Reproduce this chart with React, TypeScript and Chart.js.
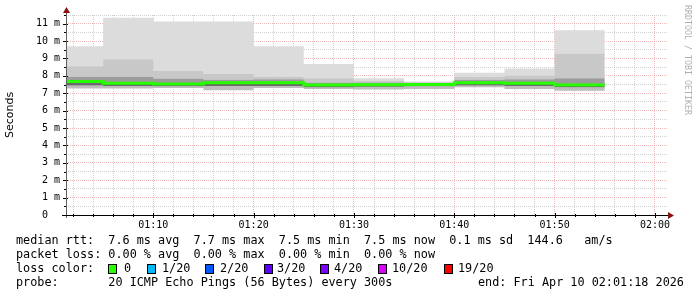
import React, { useEffect, useRef } from "react";
import { Chart, registerables } from "chart.js";

Chart.register(...registerables);

// ---- data (minutes after 01:00, 5-minute bins) ----
const binStarts = [0, 5, 10, 15, 20, 25, 30, 35, 40, 45, 50];
const binWidth = 5;
const rttMax = [9.71, 11.34, 11.13, 11.13, 9.71, 8.68, 7.86, 7.68, 8.18, 8.43, 10.63];
const rttUpper = [8.56, 8.95, 8.29, 8.12, 7.95, 7.87, 7.72, 7.64, 7.95, 8.0, 9.29];
const rttHigh = [7.95, 7.95, 7.85, 7.78, 7.8, 7.62, 7.62, 7.58, 7.78, 7.8, 7.86];
const rttMedian = [7.67, 7.57, 7.53, 7.6, 7.6, 7.47, 7.49, 7.51, 7.6, 7.57, 7.47];
const rttLow = [7.45, 7.42, 7.4, 7.42, 7.42, 7.35, 7.38, 7.4, 7.45, 7.42, 7.35];
const rttMin = [7.28, 7.28, 7.3, 7.18, 7.3, 7.24, 7.22, 7.24, 7.34, 7.24, 7.14];

const xRangeMin = 1.3; // 01:01:18
const xRangeMax = 61.3; // 02:01:18
const xMinorStep = 2;
const xMajorStep = 10;
const yMax = 11.5;
const yStep = 0.5;

const yAxisTitle = "Seconds";
const sideText = "RRDTOOL / TOBI OETIKER";
const legendLine1 = "median rtt:  7.6 ms avg  7.7 ms max  7.5 ms min  7.5 ms now  0.1 ms sd  144.6   am/s";
const legendLine2 = "packet loss: 0.00 % avg  0.00 % max  0.00 % min  0.00 % now";
const legendLine3 = "loss color:";
const legendLine4 = "probe:       20 ICMP Echo Pings (56 Bytes) every 300s";
const legendEnd = "end: Fri Apr 10 02:01:18 2026";
const lossLabels = ["0", "1/20", "2/20", "3/20", "4/20", "10/20", "19/20"];
const lossColors = ["#26ff00", "#00b8ff", "#0059ff", "#5e00ff", "#7e00ff", "#dd00ff", "#ff0000"];

const MONO = '"DejaVu Sans Mono", monospace';

// each bin becomes a flat step: (start, v) -> (end, v)
function pts(vals: number[]) {
  const out: { x: number; y: number }[] = [];
  binStarts.forEach((x, i) => {
    out.push({ x, y: vals[i] });
    out.push({ x: x + binWidth, y: vals[i] });
  });
  return out;
}

function fmtTime(m: number) {
  const h = 1 + Math.floor(m / 60);
  const mm = m % 60;
  return String(h).padStart(2, "0") + ":" + String(mm).padStart(2, "0");
}

const decorPlugin = {
  id: "decor",
  afterDraw(chart: any) {
    const ctx = chart.ctx as CanvasRenderingContext2D;
    const { left, right, top, bottom } = chart.chartArea;
    const xs = chart.scales.x;
    const ys = chart.scales.y;
    ctx.save();
    ctx.lineWidth = 1;
    ctx.strokeStyle = "#000";
    for (let m = 2; m <= 60; m += xMinorStep) {
      const px = Math.round(xs.getPixelForValue(m)) + 0.5;
      const big = m % xMajorStep === 0;
      ctx.beginPath();
      ctx.moveTo(px, bottom - (big ? 2 : 1));
      ctx.lineTo(px, bottom + (big ? 3 : 2));
      ctx.stroke();
    }
    for (let v = yStep; v <= yMax; v += yStep) {
      const py = Math.round(ys.getPixelForValue(v)) + 0.5;
      const big = Math.abs(v - Math.round(v)) < 1e-6;
      ctx.beginPath();
      ctx.moveTo(left - (big ? 3 : 2), py);
      ctx.lineTo(left + (big ? 2 : 1), py);
      ctx.stroke();
    }
    ctx.strokeStyle = "#606060";
    ctx.beginPath();
    ctx.moveTo(left + 0.5, top - 4);
    ctx.lineTo(left + 0.5, bottom + 3);
    ctx.stroke();
    ctx.strokeStyle = "#000";
    ctx.beginPath();
    ctx.moveTo(left - 4, bottom + 0.5);
    ctx.lineTo(right + 1, bottom + 0.5);
    ctx.stroke();
    ctx.fillStyle = "#8b1010";
    ctx.beginPath();
    ctx.moveTo(right, bottom - 3);
    ctx.lineTo(right + 6, bottom + 0.5);
    ctx.lineTo(right, bottom + 4);
    ctx.closePath();
    ctx.fill();
    ctx.beginPath();
    ctx.moveTo(left - 3, top - 2);
    ctx.lineTo(left + 0.5, top - 8);
    ctx.lineTo(left + 4, top - 2);
    ctx.closePath();
    ctx.fill();
    ctx.save();
    ctx.fillStyle = "#b0b0b0";
    ctx.font = "8.3px " + MONO;
    ctx.textBaseline = "middle";
    ctx.textAlign = "left";
    ctx.translate(687.5, 5);
    ctx.rotate(Math.PI / 2);
    ctx.fillText(sideText, 0, 0);
    ctx.restore();
    ctx.fillStyle = "#000";
    ctx.font = "11.8px " + MONO;
    ctx.textBaseline = "middle";
    ctx.textAlign = "left";
    ctx.fillText(legendLine1, 16, 241);
    ctx.fillText(legendLine2, 16, 255);
    ctx.fillText(legendLine3, 16, 269);
    ctx.fillText(legendLine4, 16, 283);
    ctx.fillText(legendEnd, 478, 283);
    const boxX = [108, 147, 205, 264, 320, 378, 444];
    const textX = [124, 162, 220, 277, 334, 392, 458];
    for (let i = 0; i < lossLabels.length; i++) {
      ctx.fillStyle = lossColors[i];
      ctx.fillRect(boxX[i], 264.5, 8, 9);
      ctx.strokeStyle = "#000";
      ctx.strokeRect(boxX[i] + 0.5, 264.5, 8, 9);
      ctx.fillStyle = "#000";
      ctx.fillText(lossLabels[i], textX[i], 269);
    }
    ctx.restore();
  },
};

const MAJOR = "rgba(220,120,120,0.5)";
const MINOR = "rgba(165,165,165,0.5)";

export default function App() {
  const ref = useRef<HTMLCanvasElement | null>(null);
  useEffect(() => {
    if (!ref.current) return;
    const base = { pointRadius: 0, borderWidth: 0, tension: 0 };
    const chart = new Chart(ref.current, {
      type: "line",
      data: {
        datasets: [
          { ...base, label: "min", data: pts(rttMin), fill: false, borderColor: "transparent" },
          { ...base, label: "low", data: pts(rttLow), fill: "-1", backgroundColor: "#bdbdbd", borderColor: "transparent" },
          {
            ...base,
            label: "median",
            data: pts(rttMedian),
            fill: "-1",
            backgroundColor: "#6a6a6a",
            borderColor: "#26ff00",
            borderWidth: 3,
            borderCapStyle: "butt",
            order: -1,
          },
          { ...base, label: "high", data: pts(rttHigh), fill: "-1", backgroundColor: "#9c9c9c", borderColor: "transparent" },
          { ...base, label: "upper", data: pts(rttUpper), fill: "-1", backgroundColor: "#c8c8c8", borderColor: "transparent" },
          { ...base, label: "max", data: pts(rttMax), fill: "-1", backgroundColor: "#dcdcdc", borderColor: "transparent" },
        ] as any,
      },
      options: {
        responsive: false,
        animation: false,
        devicePixelRatio: 1,
        layout: { padding: { left: 0, right: 29, top: 15, bottom: 62 } },
        plugins: { legend: { display: false }, tooltip: { enabled: false } },
        scales: {
          x: {
            type: "linear",
            min: xRangeMin,
            max: xRangeMax,
            z: 1,
            afterBuildTicks: (scale: any) => {
              const t = [];
              for (let m = Math.ceil(xRangeMin / xMinorStep) * xMinorStep; m <= xRangeMax; m += xMinorStep) t.push({ value: m });
              scale.ticks = t;
            },
            afterFit: (scale: any) => {
              scale.height = 20;
            },
            ticks: {
              autoSkip: false,
              maxRotation: 0,
              padding: 4,
              color: "#000",
              font: { family: MONO, size: 10 },
              callback: (v: any) => (Number(v) % xMajorStep === 0 ? fmtTime(Number(v)) : ""),
            },
            grid: {
              drawTicks: false,
              color: (c: any) => (c.tick && c.tick.value % xMajorStep === 0 ? MAJOR : MINOR),
            },
            border: { display: false, dash: [1, 1] },
          },
          y: {
            type: "linear",
            min: 0,
            max: yMax,
            z: 1,
            afterFit: (scale: any) => {
              scale.width = 66;
            },
            ticks: {
              stepSize: yStep,
              autoSkip: false,
              padding: 6,
              color: "#000",
              font: { family: MONO, size: 10 },
              callback: (v: any) => {
                const n = Number(v);
                if (Math.abs(n - Math.round(n)) > 1e-6) return "";
                return n === 0 ? "0  " : n + " m";
              },
            },
            grid: {
              drawTicks: false,
              color: (c: any) =>
                c.tick && c.tick.value === 0
                  ? "rgba(0,0,0,0)"
                  : c.tick && Math.abs(c.tick.value - Math.round(c.tick.value)) < 1e-6
                  ? MAJOR
                  : MINOR,
            },
            border: { display: false, dash: [1, 1] },
            title: {
              display: true,
              text: yAxisTitle,
              color: "#000",
              font: { family: '"DejaVu Sans", sans-serif', size: 11 },
              padding: { top: 4, bottom: 0 },
            },
          },
        },
      } as any,
      plugins: [decorPlugin],
    });
    return () => chart.destroy();
  }, []);
  return (
    <div style={{ position: "absolute", left: 0, top: 0, width: 697, height: 297, background: "#fff" }}>
      <canvas ref={ref} width={697} height={297} style={{ display: "block" }} />
    </div>
  );
}
